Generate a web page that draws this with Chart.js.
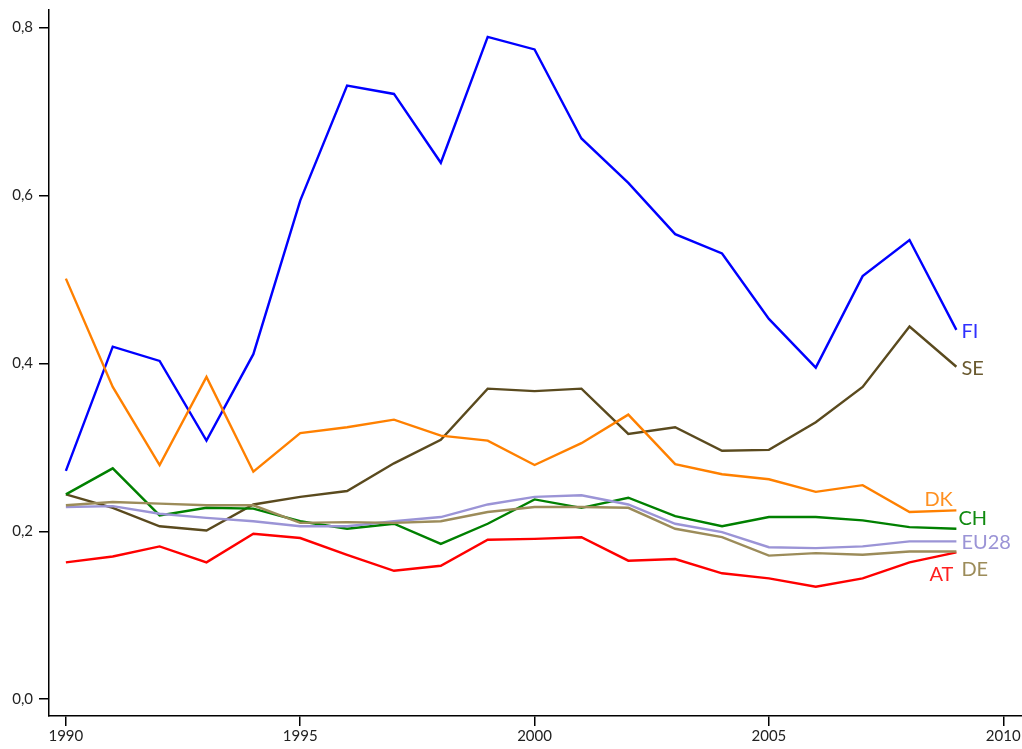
<!DOCTYPE html>
<html>
<head>
<meta charset="utf-8">
<script src="https://cdn.jsdelivr.net/npm/chart.js@4/dist/chart.umd.min.js"></script>
<style>
  html, body { margin: 0; padding: 0; background: #fff; }
  #wrap { width: 1022px; height: 749px; }
</style>
</head>
<body>
<div id="wrap"><canvas id="myChart"></canvas></div>
<script>
// Years on the x axis
const years = [1990, 1991, 1992, 1993, 1994, 1995, 1996, 1997, 1998, 1999,
               2000, 2001, 2002, 2003, 2004, 2005, 2006, 2007, 2008, 2009];

// Series values
const FI   = [0.272, 0.420, 0.403, 0.308, 0.411, 0.594, 0.731, 0.721, 0.639, 0.789,
              0.774, 0.668, 0.615, 0.554, 0.531, 0.453, 0.395, 0.504, 0.547, 0.440];
const SE   = [0.244, 0.228, 0.206, 0.201, 0.232, 0.241, 0.248, 0.281, 0.309, 0.370,
              0.367, 0.370, 0.316, 0.324, 0.296, 0.297, 0.330, 0.372, 0.444, 0.396];
const DK   = [0.501, 0.372, 0.279, 0.384, 0.271, 0.317, 0.324, 0.333, 0.314, 0.308,
              0.279, 0.305, 0.339, 0.280, 0.268, 0.262, 0.247, 0.255, 0.223, 0.225];
const CH   = [0.244, 0.275, 0.219, 0.228, 0.227, 0.212, 0.203, 0.209, 0.185, 0.209,
              0.238, 0.228, 0.240, 0.218, 0.206, 0.217, 0.217, 0.213, 0.205, 0.203];
const EU28 = [0.229, 0.230, 0.221, 0.216, 0.212, 0.206, 0.206, 0.212, 0.217, 0.232,
              0.241, 0.243, 0.232, 0.209, 0.199, 0.181, 0.180, 0.182, 0.188, 0.188];
const DE   = [0.231, 0.235, 0.233, 0.231, 0.231, 0.210, 0.211, 0.210, 0.212, 0.223,
              0.229, 0.229, 0.228, 0.203, 0.193, 0.171, 0.174, 0.172, 0.176, 0.176];
const AT   = [0.163, 0.170, 0.182, 0.163, 0.197, 0.192, 0.172, 0.153, 0.159, 0.190,
              0.191, 0.193, 0.165, 0.167, 0.150, 0.144, 0.134, 0.144, 0.163, 0.175];

// Tick labels
const xTicks = [1990, 1995, 2000, 2005, 2010];
const yTicks = [0, 0.2, 0.4, 0.6, 0.8];

const FONT = "'Lato', 'DejaVu Sans', sans-serif";

// name, values, line colour, label colour, label offset (dx, dy) from last point
const seriesDefs = [
    ['DE',   DE,   '#9c8c5a', '#9c8c5a', 5, 18],
    ['EU28', EU28, '#9b94d6', '#9b94d6', 5, 1],
    ['AT',   AT,   '#ff0000', '#ff2020', -27, 22],
    ['CH',   CH,   '#008000', '#108a10', 2, -10],
    ['DK',   DK,   '#ff8000', '#ff9020', -32, -11],
    ['SE',   SE,   '#5a4a1e', '#6a5a30', 5, 2],
    ['FI',   FI,   '#0000ff', '#3030ff', 5, 2],
];

const datasets = seriesDefs.map(([name, vals, color]) => ({
    label: name,
    data: years.map((y, i) => ({ x: y, y: vals[i] })),
    borderColor: color,
    backgroundColor: color,
    borderWidth: 2.4,
    pointRadius: 0,
    tension: 0,
    fill: false,
}));

// Draws the series name next to the end of each line
const endLabels = {
    id: 'endLabels',
    afterDatasetsDraw(chart) {
        const ctx = chart.ctx;
        ctx.save();
        ctx.font = "20px " + FONT;
        ctx.textBaseline = 'middle';
        ctx.textAlign = 'left';
        seriesDefs.forEach(([name, vals, color, labelColor, dx, dy], i) => {
            const meta = chart.getDatasetMeta(i);
            const last = meta.data[meta.data.length - 1];
            ctx.fillStyle = labelColor;
            ctx.fillText(name, last.x + dx, last.y + dy);
        });
        ctx.restore();
    }
};

const canvas = document.getElementById('myChart');
const ctx = canvas.getContext('2d');

new Chart(ctx, {
    type: 'line',
    data: { datasets: datasets },
    plugins: [endLabels],
    options: {
        responsive: true,
        maintainAspectRatio: false,
        animation: false,
        layout: { padding: { top: 10, right: 0, left: 0, bottom: 0 } },
        plugins: {
            legend: { display: false },
            tooltip: { enabled: false },
        },
        scales: {
            x: {
                type: 'linear',
                min: 1989.64,
                max: 2010.4,
                afterBuildTicks: (scale) => {
                    scale.ticks = xTicks.map(v => ({ value: v }));
                },
                afterFit: (scale) => {
                    scale.height = 33;
                    scale.paddingLeft = 0;
                    scale.paddingRight = 0;
                },
                grid: {
                    drawOnChartArea: false,
                    drawTicks: true,
                    tickLength: 10,
                    color: '#000',
                    lineWidth: 1.5,
                },
                border: { display: true, color: '#000', width: 1.5 },
                ticks: {
                    color: '#222',
                    font: { family: FONT, size: 15 },
                    padding: 1,
                    maxRotation: 0,
                    callback: (v) => String(v),
                },
            },
            y: {
                type: 'linear',
                min: -0.02,
                max: 0.821,
                afterBuildTicks: (scale) => {
                    scale.ticks = yTicks.map(v => ({ value: v }));
                },
                afterFit: (scale) => {
                    scale.width = 49;
                    scale.paddingTop = 0;
                    scale.paddingBottom = 0;
                },
                grid: {
                    drawOnChartArea: false,
                    drawTicks: true,
                    tickLength: 10,
                    color: '#000',
                    lineWidth: 1.5,
                },
                border: { display: true, color: '#000', width: 1.5 },
                ticks: {
                    color: '#222',
                    font: { family: FONT, size: 15 },
                    padding: 6,
                    callback: (v) => v.toFixed(1).replace('.', ','),
                },
            },
        },
    },
});
</script>
</body>
</html>
